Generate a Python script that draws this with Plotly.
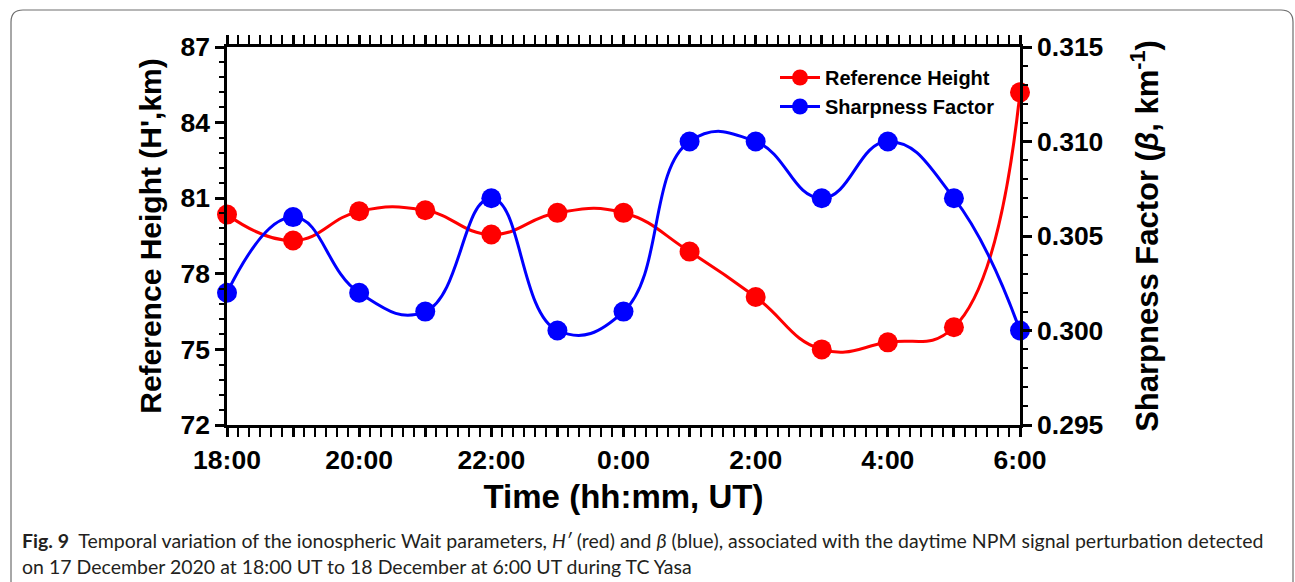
import plotly.graph_objects as go

times = ["18:00", "19:00", "20:00", "21:00", "22:00", "23:00", "0:00",
         "1:00", "2:00", "3:00", "4:00", "5:00", "6:00"]
hours = list(range(len(times)))
ref_height = [80.35, 79.32, 80.48, 80.52, 79.56, 80.42, 80.42,
              78.88, 77.08, 75.0, 75.28, 75.88, 85.2]
sharpness = [0.302, 0.306, 0.302, 0.301, 0.307, 0.300, 0.301,
             0.310, 0.310, 0.307, 0.310, 0.307, 0.300]
tick_text = [t if i % 2 == 0 else "" for i, t in enumerate(times)]

W, H = 1295, 582
L, R, T, B = 227, 1020, 47, 425

fig = go.Figure()
fig.add_trace(go.Scatter(
    x=hours, y=ref_height, name="Reference Height", mode="lines+markers",
    line=dict(color="#ff0000", width=3, shape="spline", smoothing=1.3),
    marker=dict(color="#ff0000", size=20), cliponaxis=False))
fig.add_trace(go.Scatter(
    x=hours, y=sharpness, name="Sharpness Factor", mode="lines+markers",
    yaxis="y2",
    line=dict(color="#0000ff", width=3, shape="spline", smoothing=1.3),
    marker=dict(color="#0000ff", size=20), cliponaxis=False))

font_b = "Liberation Sans"
cap_font = "Lato, Open Sans"

def px2x(px):
    return (px - L) / (R - L)

def py2y(py):
    return 1 - (py - T) / (B - T)

# rounded frame path in paper coords
x0, x1, y0, y1 = 11, 1293, 10, 600
r = 12
def P(px, py):
    return f"{px2x(px):.5f},{py2y(py):.5f}"
path = (f"M{P(x0, y1)} L{P(x0, y0 + r)} Q{P(x0, y0)} {P(x0 + r, y0)} "
        f"L{P(x1 - r, y0)} Q{P(x1, y0)} {P(x1, y0 + r)} L{P(x1, y1)}")

tickfont = dict(size=26.5, family=font_b, weight="bold")

fig.update_layout(
    width=W, height=H,
    margin=dict(l=L, r=W - R, t=T, b=H - B),
    paper_bgcolor="white", plot_bgcolor="white",
    font=dict(family=font_b, color="black"),
    showlegend=True,
    legend=dict(x=px2x(775), y=py2y(58), xanchor="left", yanchor="top",
                bgcolor="rgba(0,0,0,0)",
                font=dict(size=20, family=font_b, weight="bold"),
                tracegroupgap=0, itemwidth=40),
    xaxis=dict(
        range=[0, 12], tickmode="array", tickvals=hours, ticktext=tick_text,
        showline=True, linecolor="black", linewidth=2.5, mirror="allticks",
        ticks="outside", ticklen=9, tickwidth=2.5, tickcolor="black",
        tickfont=tickfont,
        minor=dict(tickmode="linear", tick0=0, dtick=1 / 6, ticks="outside",
                   ticklen=5, tickwidth=2, tickcolor="black"),
        showgrid=False, zeroline=False,
        title=dict(text="Time (hh:mm, UT)", standoff=12,
                   font=dict(size=33, family=font_b, weight="bold")),
    ),
    yaxis=dict(
        range=[72, 87], tickmode="linear", tick0=72, dtick=3,
        showline=True, linecolor="black", linewidth=2.5,
        ticks="outside", ticklen=9, tickwidth=2.5, tickcolor="black",
        tickfont=tickfont,
        minor=dict(tickmode="linear", tick0=72, dtick=0.6, ticks="outside",
                   ticklen=5, tickwidth=2, tickcolor="black"),
        showgrid=False, zeroline=False,
        title=dict(text="Reference Height (H',km)", standoff=10,
                   font=dict(size=30, family=font_b, weight="bold")),
    ),
    yaxis2=dict(
        overlaying="y", side="right",
        range=[0.295, 0.315], tickmode="linear", tick0=0.295, dtick=0.005,
        tickformat=".3f",
        showline=True, linecolor="black", linewidth=2.5,
        ticks="outside", ticklen=9, tickwidth=2.5, tickcolor="black",
        tickfont=tickfont,
        minor=dict(tickmode="linear", tick0=0.295, dtick=0.001, ticks="outside",
                   ticklen=5, tickwidth=2, tickcolor="black"),
        showgrid=False, zeroline=False,
        title=dict(text="Sharpness Factor (<i>β</i>, km<sup>-1</sup>)", standoff=34,
                   font=dict(size=31, family=font_b, weight="bold")),
    ),
    shapes=[dict(type="path", xref="paper", yref="paper", path=path,
                 line=dict(color="#6e6e6e", width=1.2), layer="below")],
    annotations=[
        dict(xref="paper", yref="paper", x=px2x(20), y=py2y(540),
             xanchor="left", yanchor="middle", showarrow=False, align="left",
             font=dict(size=19.5, family=cap_font, color="#231f20"),
             text="<b>Fig. 9</b>  Temporal variation of the ionospheric Wait parameters, <i>H′</i> (red) and <i>β</i> (blue), associated with the daytime NPM signal perturbation detected"),
        dict(xref="paper", yref="paper", x=px2x(20), y=py2y(566),
             xanchor="left", yanchor="middle", showarrow=False, align="left",
             font=dict(size=19.5, family=cap_font, color="#231f20"),
             text="on 17 December 2020 at 18:00 UT to 18 December at 6:00 UT during TC Yasa"),
    ],
)

fig.write_html("out.html", config={"displayModeBar": False},
               post_script="document.body.style.margin='0';document.body.style.padding='0';")
